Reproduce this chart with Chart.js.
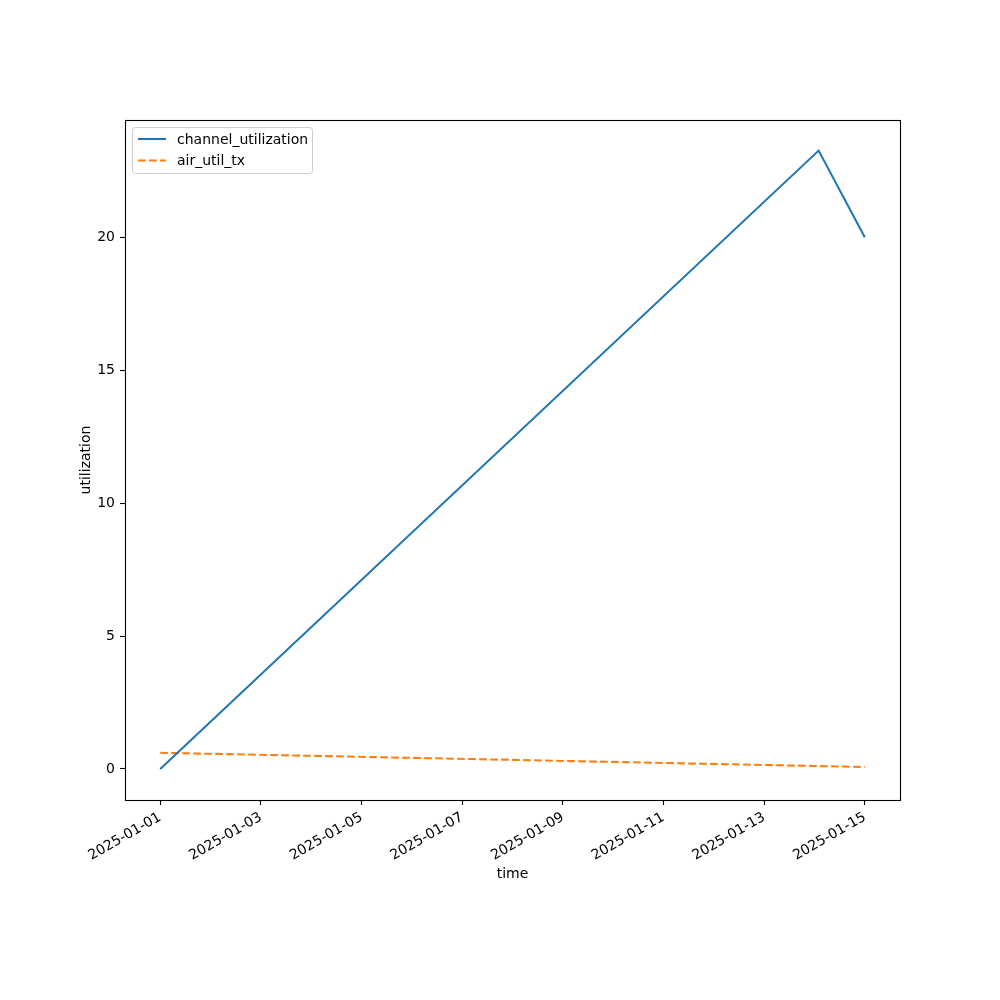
<!DOCTYPE html>
<html>
<head>
<meta charset="utf-8">
<script src="https://cdn.jsdelivr.net/npm/chart.js@4"></script>
<style>
  html, body { margin: 0; padding: 0; background: #fff; }
  #wrap { width: 1000px; height: 1000px; }
</style>
</head>
<body>
<div id="wrap"><canvas id="chart" width="1000" height="1000"></canvas></div>
<script>
// data
const times = ['2025-01-01T00:00:00Z', '2025-01-14T02:00:00Z', '2025-01-15T00:00:00Z'];
const channelUtilization = [0, 23.26, 20.0];
const airUtilTx = [0.61, 0.11, 0.075];
const xTickDates = ['2025-01-01', '2025-01-03', '2025-01-05', '2025-01-07', '2025-01-09', '2025-01-11', '2025-01-13', '2025-01-15'];
const yTicks = [0, 5, 10, 15, 20];

const DAY = 86400000;
const t0 = Date.parse(times[0]);
const toDays = s => (Date.parse(s.length === 10 ? s + 'T00:00:00Z' : s) - t0) / DAY;

const xs = times.map(toDays);
const xTickVals = xTickDates.map(toDays);
const labelFor = {};
xTickDates.forEach((d, i) => { labelFor[xTickVals[i]] = d; });

const FONT = 'DejaVu Sans';

// frame, axis titles and legend like matplotlib
const extras = {
    id: 'extras',
    afterDraw(chart) {
        const ctx = chart.ctx;
        const a = chart.chartArea;
        ctx.save();
        ctx.strokeStyle = '#000';
        ctx.lineWidth = 1.1;
        ctx.strokeRect(Math.round(a.left) + 0.5, Math.round(a.top) + 0.5,
                       Math.round(a.right - a.left), Math.round(a.bottom - a.top));

        ctx.fillStyle = '#000';
        ctx.font = '14px "' + FONT + '"';
        ctx.textAlign = 'center';
        ctx.textBaseline = 'middle';
        ctx.fillText('time', (a.left + a.right) / 2, 874);
        ctx.translate(86, (a.top + a.bottom) / 2);
        ctx.rotate(-Math.PI / 2);
        ctx.fillText('utilization', 0, 0);
        ctx.restore();

        // legend
        ctx.save();
        const bx = 132.5, by = 127.5, bw = 180, bh = 46, r = 3;
        ctx.beginPath();
        ctx.moveTo(bx + r, by);
        ctx.arcTo(bx + bw, by, bx + bw, by + bh, r);
        ctx.arcTo(bx + bw, by + bh, bx, by + bh, r);
        ctx.arcTo(bx, by + bh, bx, by, r);
        ctx.arcTo(bx, by, bx + bw, by, r);
        ctx.closePath();
        ctx.fillStyle = 'rgba(255,255,255,0.8)';
        ctx.fill();
        ctx.strokeStyle = '#cccccc';
        ctx.lineWidth = 1;
        ctx.stroke();

        chart.data.datasets.forEach((ds, i) => {
            const y = 139 + i * 21.5;
            ctx.beginPath();
            ctx.setLineDash(ds.borderDash || []);
            ctx.strokeStyle = ds.borderColor;
            ctx.lineWidth = ds.borderWidth;
            ctx.moveTo(138, y);
            ctx.lineTo(166, y);
            ctx.stroke();
            ctx.setLineDash([]);
            ctx.fillStyle = '#000';
            ctx.font = '14px "' + FONT + '"';
            ctx.textAlign = 'left';
            ctx.textBaseline = 'middle';
            ctx.fillText(ds.label, 177, y + 1);
        });
        ctx.restore();
    }
};

new Chart(document.getElementById('chart').getContext('2d'), {
    type: 'line',
    data: {
        datasets: [{
            label: 'channel_utilization',
            data: xs.map((x, i) => ({ x: x, y: channelUtilization[i] })),
            borderColor: '#1f77b4',
            borderWidth: 2.08,
            pointRadius: 0,
            tension: 0,
            fill: false
        }, {
            label: 'air_util_tx',
            data: xs.map((x, i) => ({ x: x, y: airUtilTx[i] })),
            borderColor: '#ff7f0e',
            borderWidth: 2.08,
            borderDash: [7.7, 3.3],
            pointRadius: 0,
            tension: 0,
            fill: false
        }]
    },
    options: {
        responsive: false,
        animation: false,
        devicePixelRatio: 1,
        layout: { padding: { top: 120, right: 100, bottom: 0, left: 0 } },
        plugins: { legend: { display: false }, tooltip: { enabled: false } },
        scales: {
            x: {
                type: 'linear',
                min: -0.7,
                max: 14.7,
                afterFit: s => { s.height = 200; },
                afterBuildTicks: s => { s.ticks = xTickVals.map(v => ({ value: v })); },
                grid: { drawOnChartArea: false, drawTicks: true, tickLength: 5, color: '#000', tickWidth: 1.1 },
                border: { display: false },
                ticks: {
                    color: '#000',
                    font: { family: FONT, size: 14 },
                    minRotation: 30,
                    maxRotation: 30,
                    padding: 4,
                    autoSkip: false,
                    callback: v => labelFor[v] || ''
                }
            },
            y: {
                type: 'linear',
                min: -1.166,
                max: 24.41,
                afterFit: s => { s.width = 125; },
                afterBuildTicks: s => { s.ticks = yTicks.map(v => ({ value: v })); },
                grid: { drawOnChartArea: false, drawTicks: true, tickLength: 5, color: '#000', tickWidth: 1.1 },
                border: { display: false },
                ticks: {
                    color: '#000',
                    font: { family: FONT, size: 14 },
                    padding: 5,
                    callback: v => String(v)
                }
            }
        }
    },
    plugins: [extras]
});
</script>
</body>
</html>
